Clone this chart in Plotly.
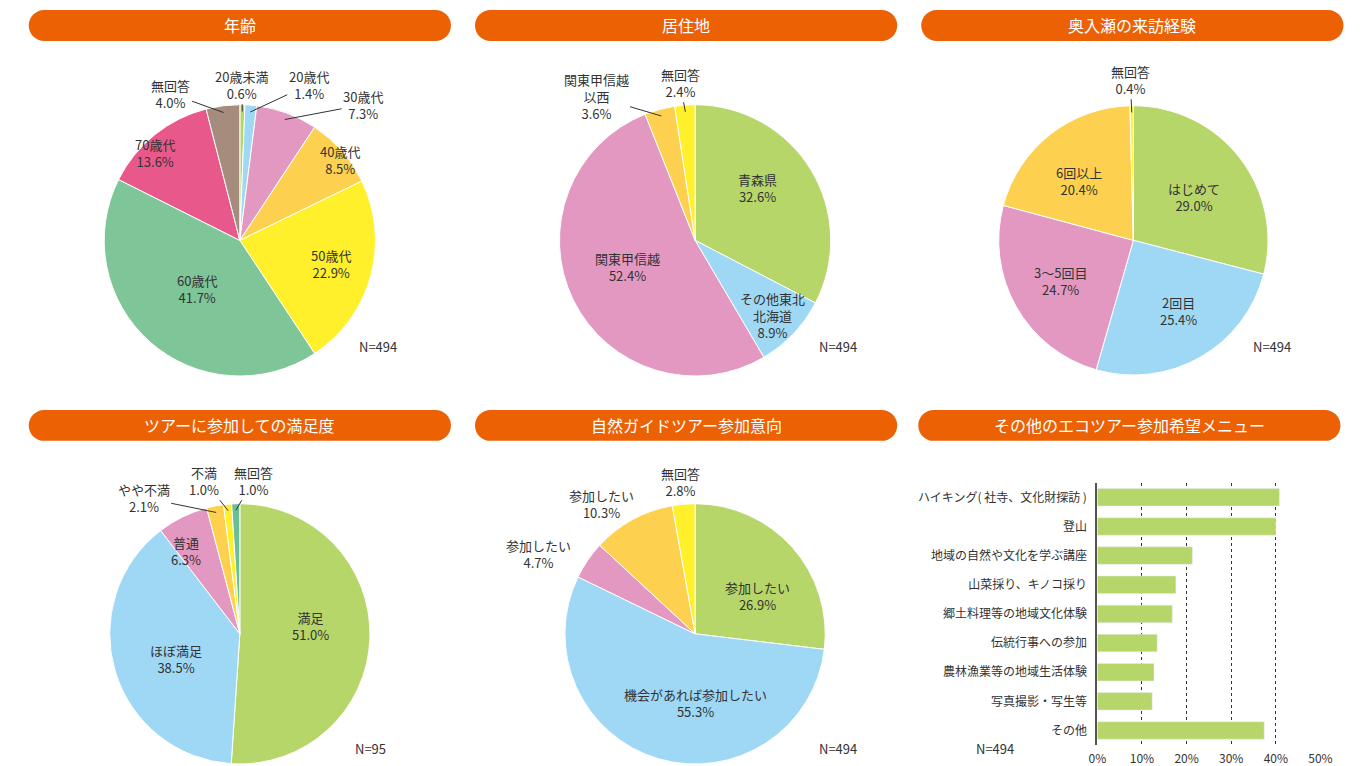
import math
import plotly.graph_objects as go

W, H = 1361, 766
# horizontal correction measured from earlier renders (screen_x = SX * x + DX)
SX, DX = 0.984, 9.3

# ---- data ----
age_labels = ['20歳未満', '20歳代', '30歳代', '40歳代', '50歳代', '60歳代', '70歳代', '無回答']
age_values = [0.6, 1.4, 7.3, 8.5, 22.9, 41.7, 13.6, 4.0]

home_labels = ['青森県', 'その他東北<br>北海道', '関東甲信越', '関東甲信越<br>以西', '無回答']
home_values = [32.6, 8.9, 52.4, 3.6, 2.4]

visit_labels = ['はじめて', '2回目', '3～5回目', '6回以上', '無回答']
visit_values = [29.0, 25.4, 24.7, 20.4, 0.4]

satis_labels = ['満足', 'ほぼ満足', '普通', 'やや不満', '不満', '無回答']
satis_values = [51.0, 38.5, 6.3, 2.1, 1.0, 1.0]

intent_labels = ['参加したい', '機会があれば参加したい', '参加したい', '参加したい', '無回答']
intent_values = [26.9, 55.3, 4.7, 10.3, 2.8]

menu_labels = ['ハイキング( 社寺、文化財探訪 )', '登山', '地域の自然や文化を学ぶ講座',
               '山菜採り、キノコ採り', '郷土料理等の地域文化体験', '伝統行事への参加',
               '農林漁業等の地域生活体験', '写真撮影・写生等', 'その他']
menu_values = [40.8, 40.0, 21.3, 17.6, 16.8, 13.4, 12.7, 12.3, 37.4]
menu_ticks = [0, 10, 20, 30, 40, 50]

titles = ['年齢', '居住地', '奥入瀬の来訪経験',
          'ツアーに参加しての満足度', '自然ガイドツアー参加意向', 'その他のエコツアー参加希望メニュー']
n_texts = ['N=494', 'N=494', 'N=494', 'N=95', 'N=494', 'N=494']

# ---- style ----
FONT = 'Noto Sans CJK JP'
TXT = '#333333'
GREEN = '#B6D66A'
BLUE = '#9ED8F5'
PINK = '#E398C1'
ORANGE = '#FDD14F'
YELLOW = '#FFF02B'
TITLE_BG = '#EB6103'


def X(v):
    return (v - DX) / SX / W


def Y(v):
    return 1 - v / H


# pie geometry (center x, center y, radius) and label placement (x, y, leader)
pies = [
    dict(labels=age_labels, values=age_values, geo=(240, 241, 136),
         colors=[GREEN, BLUE, PINK, ORANGE, YELLOW, '#7EC598', '#E9588A', '#A68C7C'],
         pos=[(242, 85, True), (308, 85, True), (362, 105, True), (340, 160, False),
              (331, 265, False), (197, 290, False), (155, 153, False), (172, 94, True)]),
    dict(labels=home_labels, values=home_values, geo=(695, 241, 136),
         colors=[GREEN, BLUE, PINK, ORANGE, YELLOW],
         pos=[(757, 188, False), (772, 316, False), (627, 268, False), (597, 97, True), (680, 83, True)]),
    dict(labels=visit_labels, values=visit_values, geo=(1133, 241, 135),
         colors=[GREEN, BLUE, PINK, ORANGE, YELLOW],
         pos=[(1194, 198, False), (1178, 312, False), (1060, 282, False), (1079, 181, False), (1130, 80, True)]),
    dict(labels=satis_labels, values=satis_values, geo=(240, 635.5, 130.5),
         colors=[GREEN, BLUE, PINK, ORANGE, YELLOW, '#6BBE98'],
         pos=[(311, 628, False), (176, 661, False), (186, 552, False), (145, 499, True),
              (205, 482, True), (253, 482, True)]),
    dict(labels=intent_labels, values=intent_values, geo=(695, 635.5, 130.5),
         colors=[GREEN, BLUE, PINK, ORANGE, YELLOW],
         pos=[(757, 598, False), (695, 705, False), (538, 555, False), (601, 505, False), (680, 483, False)]),
]

n_pos = [(378, 347), (838, 347), (1272, 347), (371, 750), (838, 750), (995, 750)]
title_boxes = [(29, 451, 10, 41), (475, 897, 10, 41), (921, 1343, 10, 41),
               (29, 451, 411, 442), (475, 897, 411, 442), (918, 1340, 411, 442)]

fig = go.Figure()
annotations = []
shapes = []


def label(x, y, text, size=13, color=TXT):
    return dict(x=X(x), y=Y(y), xref='paper', yref='paper', text=text, showarrow=False,
                xanchor='center', yanchor='middle',
                font=dict(family=FONT, size=size, color=color))


for p in pies:
    cx, cy, r = p['geo']
    fig.add_trace(go.Pie(
        values=p['values'], text=[l.replace('<br>', '') for l in p['labels']],
        sort=False, direction='clockwise', rotation=0, textinfo='none',
        hovertemplate='%{text}: %{value}%<extra></extra>',
        marker=dict(colors=p['colors'], line=dict(color='white', width=1)),
        domain=dict(x=[X(cx - r), X(cx + r)], y=[Y(cy + r), Y(cy - r)]),
        showlegend=False))
    total = sum(p['values'])
    cum = 0
    for lab, val, (tx, ty, leader) in zip(p['labels'], p['values'], p['pos']):
        mid = (cum + val / 2) / total * 2 * math.pi
        cum += val
        txt = f'{lab}<br>{val:.1f}%'
        if leader:
            px_ = cx + 0.95 * r * math.sin(mid)
            py_ = cy - 0.95 * r * math.cos(mid)
            annotations.append(dict(
                x=X(px_), y=Y(py_), xref='paper', yref='paper', text=txt,
                showarrow=True, ax=(tx - px_) / SX, ay=ty - py_, arrowhead=0,
                arrowwidth=1, arrowcolor='#333', standoff=0,
                font=dict(family=FONT, size=13, color=TXT)))
        else:
            annotations.append(label(tx, ty, txt))

# bar chart
fig.add_trace(go.Bar(
    x=menu_values, y=menu_labels, orientation='h', marker=dict(color=GREEN),
    width=0.6, showlegend=False, hovertemplate='%{y}: %{x}%<extra></extra>'))

# title pills
k = 0.5523
for (x0, x1, y0, y1), t in zip(title_boxes, titles):
    r = (y1 - y0) / 2
    path = (f'M {X(x0 + r)},{Y(y0)} L {X(x1 - r)},{Y(y0)} '
            f'C {X(x1 - r + k * r)},{Y(y0)} {X(x1)},{Y(y0 + r - k * r)} {X(x1)},{Y(y0 + r)} '
            f'C {X(x1)},{Y(y0 + r + k * r)} {X(x1 - r + k * r)},{Y(y1)} {X(x1 - r)},{Y(y1)} '
            f'L {X(x0 + r)},{Y(y1)} '
            f'C {X(x0 + r - k * r)},{Y(y1)} {X(x0)},{Y(y1 - r + k * r)} {X(x0)},{Y(y1 - r)} '
            f'C {X(x0)},{Y(y0 + r - k * r)} {X(x0 + r - k * r)},{Y(y0)} {X(x0 + r)},{Y(y0)} Z')
    shapes.append(dict(type='path', path=path, xref='paper', yref='paper',
                       fillcolor=TITLE_BG, line=dict(width=0), layer='below'))
    annotations.append(label((x0 + x1) / 2, (y0 + y1) / 2, t, size=16, color='white'))

for (nx, ny), t in zip(n_pos, n_texts):
    annotations.append(label(nx, ny, t))

fig.update_layout(
    width=W, height=H, margin=dict(l=0, r=0, t=0, b=0),
    paper_bgcolor='white', plot_bgcolor='white',
    font=dict(family=FONT, color=TXT),
    annotations=annotations, shapes=shapes,
    xaxis=dict(domain=[X(1097), X(1320)], range=[0, 50], tickvals=menu_ticks,
               ticktext=[f'{v}%' for v in menu_ticks], ticklabelstandoff=5,
               showgrid=True, gridcolor='#333', griddash='dot', gridwidth=1,
               zeroline=False, showline=False, tickfont=dict(size=12, color=TXT), anchor='y'),
    yaxis=dict(domain=[Y(747), Y(484)], autorange='reversed', showline=True,
               linecolor='#555', linewidth=2, showgrid=False, ticks='', ticklabelstandoff=6,
               tickfont=dict(size=12, color=TXT), anchor='x'),
)

# make the figure fill the window exactly (no default body margin)
fig.write_html("out.html", config={'displayModeBar': False},
               post_script="document.body.style.margin='0';"
                           "document.documentElement.style.overflow='hidden';")
